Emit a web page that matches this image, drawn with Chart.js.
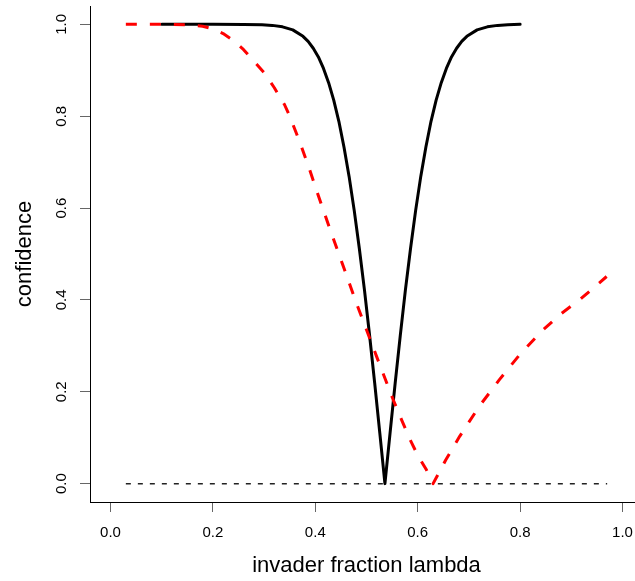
<!DOCTYPE html>
<html>
<head>
<meta charset="utf-8">
<title>confidence vs invader fraction</title>
<script src="https://cdn.jsdelivr.net/npm/chart.js@4/dist/chart.umd.min.js"></script>
<style>
	html, body { margin: 0; padding: 0; background: #fff; overflow: hidden; }
	#wrap { width: 644px; height: 581px; }
</style>
</head>
<body>
<div id="wrap"><canvas id="conf" width="644" height="581"></canvas></div>
<script>
// solid black curve, dips to zero at 0.536
const lambdaSolid = [0.10, 0.20, 0.26, 0.296, 0.316, 0.336, 0.356, 0.376, 0.386, 0.396, 0.406, 0.416, 0.426, 0.436,
	0.446, 0.456, 0.466, 0.476, 0.486, 0.496, 0.506, 0.516, 0.526, 0.536, 0.546, 0.556, 0.566, 0.576, 0.586,
	0.596, 0.606, 0.616, 0.626, 0.636, 0.646, 0.656, 0.666, 0.676, 0.686, 0.696, 0.716, 0.736, 0.756, 0.776, 0.80];
const confSolid = [1.0, 1.0, 0.9998, 0.9991, 0.9978, 0.9946, 0.988, 0.974, 0.963, 0.948, 0.929, 0.904, 0.873, 0.835,
	0.789, 0.733, 0.669, 0.595, 0.512, 0.422, 0.323, 0.219, 0.110, 0.0, 0.110, 0.219, 0.323, 0.422, 0.512,
	0.595, 0.669, 0.733, 0.789, 0.835, 0.873, 0.904, 0.929, 0.948, 0.963, 0.974, 0.988, 0.9946, 0.9978, 0.9991, 1.0];

// red dashed curve, dips to zero at 0.63
const lambdaDashed = [0.03, 0.10, 0.15, 0.18, 0.20, 0.22, 0.24, 0.26, 0.28, 0.30, 0.32, 0.34, 0.35, 0.37, 0.39,
	0.405, 0.43, 0.455, 0.48, 0.50, 0.52, 0.552, 0.57, 0.585, 0.60, 0.617, 0.63,
	0.655, 0.682, 0.72, 0.76, 0.80, 0.845, 0.88, 0.917, 0.969];
const confDashed = [1.0, 1.0, 0.999, 0.996, 0.99, 0.98, 0.965, 0.945, 0.92, 0.895, 0.862, 0.825, 0.80, 0.743, 0.68,
	0.63, 0.55, 0.472, 0.394, 0.335, 0.276, 0.183, 0.135, 0.096, 0.062, 0.03, 0.0,
	0.052, 0.103, 0.168, 0.227, 0.282, 0.335, 0.37, 0.401, 0.451];

// zero reference line
const lambdaZero = [0.03, 0.97];
const confZero = [0, 0];

const xTicks = [0, 0.2, 0.4, 0.6, 0.8, 1.0];
const yTicks = [0, 0.2, 0.4, 0.6, 0.8, 1.0];

const FONT = 'Liberation Sans, Arial, Helvetica, sans-serif';

const toPoints = (xs, ys) => xs.map((x, i) => ({ x: x, y: ys[i] }));

const setTicks = (list) => (scale) => {
	scale.ticks = list.map((v) => ({ value: v }));
};

new Chart(document.getElementById('conf'), {
	type: 'scatter',
	data: {
		datasets: [
			{
				data: toPoints(lambdaZero, confZero),
				showLine: true,
				borderColor: '#222',
				borderWidth: 1.5,
				borderDash: [5, 7],
				pointRadius: 0,
			},
			{
				data: toPoints(lambdaDashed, confDashed),
				showLine: true,
				borderColor: '#ff0000',
				borderWidth: 3,
				borderDash: [11, 13],
				borderJoinStyle: 'round',
				pointRadius: 0,
			},
			{
				data: toPoints(lambdaSolid, confSolid),
				showLine: true,
				borderColor: '#000',
				borderWidth: 3,
				borderJoinStyle: 'round',
				borderCapStyle: 'round',
				pointRadius: 0,
			},
		],
	},
	options: {
		responsive: false,
		animation: false,
		devicePixelRatio: 1,
		layout: { padding: { top: 6, right: 1, bottom: 0, left: 0 } },
		plugins: { legend: { display: false }, tooltip: { enabled: false } },
		scales: {
			x: {
				type: 'linear',
				min: -0.04,
				max: 1.04,
				afterBuildTicks: setTicks(xTicks),
				afterFit: (scale) => {
					scale.height = 79;
					scale.paddingLeft = 0;
					scale.paddingRight = 0;
				},
				border: { display: true, color: '#000', width: 1 },
				grid: { drawOnChartArea: false, drawTicks: true, tickLength: 10, color: '#666' },
				ticks: {
					padding: 12,
					maxRotation: 0,
					color: '#000',
					font: { family: FONT, size: 15 },
					callback: (v) => v.toFixed(1),
				},
				title: {
					display: true,
					text: 'invader fraction lambda',
					color: '#000',
					font: { family: FONT, size: 22 },
					padding: { top: 0, bottom: 2 },
				},
			},
			y: {
				type: 'linear',
				min: -0.04,
				max: 1.04,
				afterBuildTicks: setTicks(yTicks),
				afterFit: (scale) => {
					scale.width = 90;
					scale.paddingTop = 0;
					scale.paddingBottom = 0;
				},
				border: { display: true, color: '#000', width: 1 },
				grid: { drawOnChartArea: false, drawTicks: true, tickLength: 10, color: '#666' },
				ticks: {
					padding: 8,
					minRotation: 90,
					maxRotation: 90,
					crossAlign: 'center',
					color: '#000',
					font: { family: FONT, size: 15 },
					callback: (v) => v.toFixed(1),
				},
				title: {
					display: true,
					text: 'confidence',
					color: '#000',
					font: { family: FONT, size: 22 },
					padding: { top: 12, bottom: 0 },
				},
			},
		},
	},
});
</script>
</body>
</html>
